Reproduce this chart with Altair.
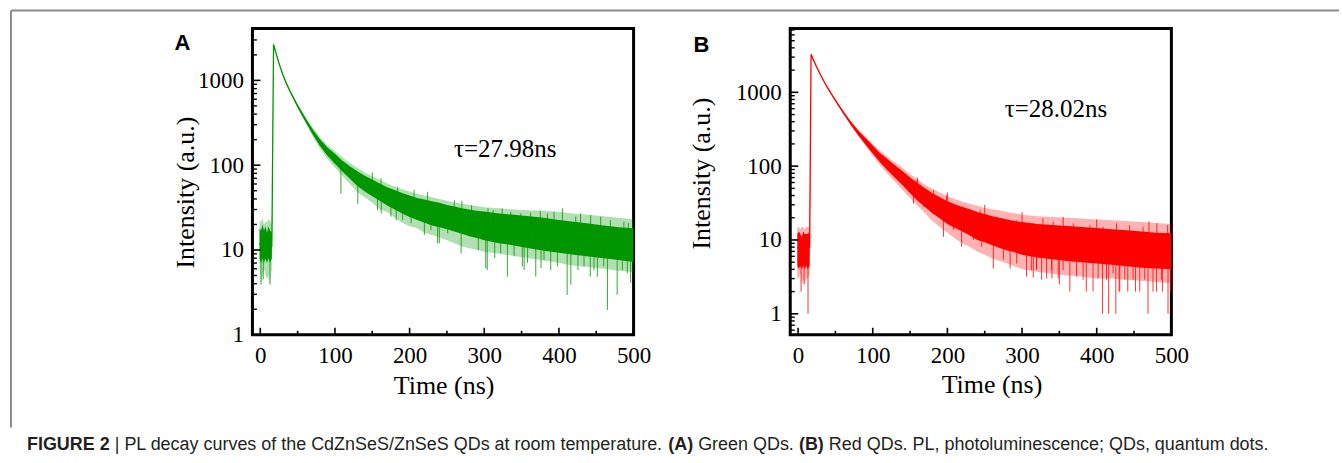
import altair as alt
import pandas as pd

# ---------------- Panel A (green QDs) ----------------
tA = [-1, 1, 3, 5, 7, 9, 11, 13, 15.5, 17.8, 20, 25, 30, 35, 40,
      50, 60, 70, 80, 90, 100, 110, 120, 130, 140, 150, 160, 170, 180, 190,
      200, 210, 220, 230, 240, 250, 260, 270, 280, 290, 300,
      320, 340, 360, 380, 400, 420, 440, 460, 480, 500]
cenA = [12, 11, 13, 11, 12, 11, 12, 11, 11, 2650, 2260, 1600, 1185, 920, 740,
        500, 350, 250, 185, 145, 120, 98, 82, 70, 61, 54, 48, 43, 39, 35,
        32.5, 30.5, 29, 27.5, 26, 24.5, 23, 22, 21, 20, 19.3,
        18, 17, 16, 15, 14.4, 13.6, 13, 12.3, 11.8, 11.3]
hiA = [18, 17, 20, 17, 19, 16, 19, 17, 16, 2700, 2300, 1630, 1210, 945, 762,
       520, 368, 268, 202, 162, 136, 113, 97, 85, 75, 68, 61, 55, 51, 47,
       44, 41, 39.5, 37.5, 36, 34, 32.5, 31, 30, 29, 28.5,
       27, 26, 25, 24, 22.5, 21.5, 20.5, 19.5, 18.5, 18]
loA = [8, 7, 8, 7, 8, 7, 8, 7, 8, 2600, 2220, 1570, 1160, 895, 718,
       480, 332, 232, 168, 129, 104, 84, 69, 57, 49, 43, 38, 33.5, 30, 27,
       24.5, 22.5, 21, 19.5, 18.5, 17.5, 16.5, 15.5, 14.5, 13.8, 13,
       12, 11.3, 10.5, 9.8, 9.3, 8.8, 8.4, 8, 7.6, 7.2]
hi2A = [23, 21, 24, 20, 22, 21, 23, 22, 20, 2700, 2300, 1630, 1210, 945, 762,
        525, 378, 278, 214, 172, 146, 124, 106, 93, 82, 74, 68, 61, 56, 52,
        49, 46, 44, 42, 40, 38, 36.5, 35, 34, 33, 32,
        31, 30, 29.5, 29, 28, 27, 26, 25, 24, 23]
lo2A = [6, 4, 5, 6, 5, 4.5, 5, 4, 6, 2600, 2220, 1570, 1160, 895, 718,
        472, 322, 220, 156, 118, 94, 75, 60, 48, 42, 36, 30, 28, 24, 21,
        19, 18, 16, 15, 14, 13, 12, 11, 10.5, 10, 9.5,
        9, 8.5, 8, 7.5, 7, 6.5, 6.3, 6, 5.7, 5.5]
# noise spikes: time, tip value, value at the band centre
spkA_t = [1, 4, 13, 108, 130.6, 162, 182, 190.7, 219.8, 237.5, 239.8, 269, 292, 302, 304,
          331, 351, 369, 376, 411, 416, 442, 465, 478, 496,
          150, 206, 270, 324, 375, 404.7, 442.5, 493,
          157, 175, 202, 228.6, 251, 264, 282, 313, 314, 322, 340, 353.4, 358, 380, 389,
          398, 425.5, 433.6, 447, 451.5, 460, 485, 491.6,
          161.8, 184, 224, 260, 283, 305, 312, 335.6, 349, 362, 384.6, 393.5, 422.5,
          429, 456, 469, 487]
spkA_v = [3.9, 4.5, 3.9, 46, 35, 27, 22.5, 22.5, 15, 12, 12, 9.1, 10, 6.1, 5.8,
          4.85, 6.4, 4.85, 6.1, 2.95, 3.9, 4.85, 1.97, 2.96, 4.1,
          82, 51, 38, 31, 29, 31, 25.8, 20.8,
          29.6, 24.7, 20.6, 17.2, 15.7, 17.2, 14.4, 13.1, 8.0, 9.1, 8.4, 5.8, 7.0, 7.6, 5.8,
          6.4, 5.8, 6.4, 5.8, 4.85, 6.4, 5.8, 5.3,
          70, 55.6, 48.5, 38.7, 33.8, 31, 29.6, 28.2, 27, 27.5, 27, 28.2, 24.7,
          27, 24.7, 22.5, 21.5]
spkA_b = [11, 11, 11, 96, 70, 47, 38, 35, 29, 26, 26, 22, 20, 19.3, 19.3,
          17.8, 16.9, 16, 15.3, 14, 13.9, 13, 12.2, 11.8, 11.3,
          54, 31.5, 22, 18.2, 15.2, 14.3, 13, 11.4,
          49.8, 41, 32, 27.7, 24.3, 22.6, 20.8, 18.5, 18.4, 17.9, 17, 16.3, 16.1, 15, 14.7,
          14.5, 13.4, 13.2, 12.8, 12.6, 12.3, 11.7, 11.5,
          47.5, 37.5, 28.4, 23, 20.8, 19.1, 18.5, 17.2, 16.5, 15.9, 14.9, 14.6, 13.5,
          13.3, 12.5, 12.1, 11.6]

# ---------------- Panel B (red QDs) ----------------
tB = [-1, 1, 3, 5, 7, 9, 11, 13, 15.5, 17.4, 20, 25, 30, 35, 40,
      50, 60, 70, 80, 90, 100, 110, 120, 130, 140, 150, 160, 170, 180, 190,
      200, 210, 220, 230, 240, 250, 260, 270, 280, 290, 300,
      320, 340, 360, 380, 400, 420, 440, 460, 480, 500]
cenB = [8, 7.5, 8, 7, 8, 7.5, 8, 7.5, 8, 3270, 2820, 2190, 1730, 1390, 1130,
        780, 545, 390, 287, 220, 168, 130, 104, 84, 68, 55, 45, 37, 31, 27,
        23.5, 21, 19, 17, 15.5, 14.3, 13.3, 12.4, 11.7, 11, 10.5,
        9.9, 9.4, 9.0, 8.7, 8.4, 8.1, 7.8, 7.5, 7.3, 7.1]
hiB = [12, 13, 12, 11, 13, 12, 12, 12, 13, 3320, 2865, 2225, 1760, 1415, 1155,
       800, 565, 410, 308, 243, 190, 150, 124, 102, 85, 70, 59, 50, 43, 38,
       33.5, 30.5, 28, 26, 24, 22.5, 21, 20, 19, 18, 17.5,
       16.5, 16, 15.5, 15, 14.5, 14, 13.5, 13, 12.5, 12.3]
loB = [4.5, 4, 4.5, 4, 4.5, 4, 4.5, 4, 4.5, 3220, 2775, 2155, 1700, 1365, 1105,
       760, 525, 370, 266, 198, 148, 112, 87, 69, 55, 43, 34, 28, 23, 19.5,
       16.5, 14.5, 13, 11.5, 10, 9.3, 8.5, 7.8, 7.2, 6.8, 6.3,
       5.8, 5.5, 5.2, 5.0, 4.8, 4.6, 4.4, 4.2, 4.1, 4.0]
hi2B = [15, 15, 14, 15, 15, 14, 15, 15, 15, 3320, 2865, 2225, 1760, 1415, 1155,
        800, 565, 415, 315, 252, 200, 160, 133, 112, 94, 78, 66, 56, 49, 44,
        39, 36, 33, 31, 29, 27, 26, 25, 24, 23, 22,
        21, 20.5, 20, 19.5, 19, 18.5, 18, 17.5, 17, 16.5]
lo2B = [3, 3, 3.5, 2.5, 3, 2.5, 3, 3, 3.5, 3220, 2775, 2155, 1700, 1365, 1105,
        760, 525, 364, 258, 190, 138, 102, 78, 61, 47, 37, 29, 23, 18, 15,
        12.5, 10.5, 9, 8, 7, 6.3, 5.6, 5.2, 4.8, 4.4, 4,
        3.7, 3.5, 3.3, 3.2, 3, 3, 2.9, 2.8, 2.7, 2.6]
spkB_t = [4, 8, 13.3, 194.7, 219, 261.5, 284, 306, 315, 340, 350, 364, 386, 395,
          407.7, 416, 425.6, 430, 441.6, 452, 468.7, 480, 488, 495.5,
          160, 200, 250, 300, 355, 400, 470,
          312.4, 319.5, 326.2, 332.9, 339.6, 348.4, 355, 373, 381.8, 401.9, 413.1, 421.9,
          430.9, 437.6, 448.7, 457.6, 464.3, 475.4, 486.6, 499,
          154.6, 168, 181, 208, 234.8, 246, 275, 292.8, 319.5,
          159, 181.5, 199, 221, 243.7, 266, 293, 315.5, 328, 341.7, 368.5, 390.8, 408.6,
          426.5, 444, 462, 480.5, 495]
spkB_v = [2.0, 2.5, 1.0, 11, 8.1, 4.1, 4.1, 3.2, 3.1, 3.0, 2.5, 2.0, 2.0, 2.0,
          1.0, 1.0, 1.0, 2.0, 2.0, 2.0, 1.0, 2.0, 2.0, 1.0,
          70, 44, 30, 24, 20.6, 19, 18,
          3.9, 4.1, 2.9, 3.0, 3.9, 3.0, 3.9, 3.2, 2.9, 3.0, 2.9, 3.5,
          2.0, 2.9, 2.9, 2.0, 2.9, 2.0, 2.9, 2.0,
          31, 28.2, 22.9, 13.6, 10, 8.1, 5.4, 4.8, 3.9,
          65, 47.4, 40.5, 28.2, 25.4, 20.6, 18.6, 17, 19.6, 17.7, 16.8, 15.9, 15.1,
          16.8, 15.9, 15.1, 16.8, 15.9]
spkB_b = [7.5, 7.5, 7.5, 25.5, 19, 13.2, 11.5, 10.4, 10.2, 9.4, 9.2, 9.0, 8.7, 8.6,
          8.3, 8.2, 8.0, 8.0, 7.8, 7.6, 7.5, 7.3, 7.2, 7.1,
          45, 23.5, 14.3, 10.5, 9.1, 8.4, 7.4,
          10.1, 9.9, 9.7, 9.6, 9.4, 9.2, 9.1, 8.8, 8.7, 8.4, 8.2, 8.1,
          7.9, 7.8, 7.7, 7.5, 7.5, 7.3, 7.2, 7.1,
          50, 38.6, 30.6, 21.5, 16.3, 14.8, 12, 10.9, 9.9,
          45.5, 30.6, 23.8, 18.8, 15.1, 12.8, 10.9, 10.1, 9.7, 9.4, 8.8, 8.6, 8.3,
          8.0, 7.7, 7.5, 7.3, 7.1]

# ---------------- axis ticks ----------------
x_labels = [0, 100, 200, 300, 400, 500]
x_minor = [50, 150, 250, 350, 450]
y_labels = [1, 10, 100, 1000]
y_minorA = [2, 3, 4, 5, 6, 7, 8, 9, 20, 30, 40, 50, 60, 70, 80, 90,
            200, 300, 400, 500, 600, 700, 800, 900, 2000, 3000, 4000]
y_minorB = [0.6, 0.7, 0.8, 0.9, 2, 3, 4, 5, 6, 7, 8, 9, 20, 30, 40, 50, 60, 70, 80, 90,
            200, 300, 400, 500, 600, 700, 800, 900, 2000, 3000, 4000, 5000, 6000, 7000]

W, H = 382, 307
SERIF = "Liberation Serif"
SANS = "Liberation Sans"
one = pd.DataFrame({"k": [0]})


def panel(t, cen, hi, lo, hi2, lo2, st, sv, sb, color, ydom, yminor,
          ytitle_xy, xtitle_xy, tau, tau_xy, letter, letter_xy, extras=None):
    band = pd.DataFrame({"t": t, "c": cen, "hi": hi, "lo": lo, "hi2": hi2, "lo2": lo2})
    spikes = pd.DataFrame({"t": st, "v": sv, "b": sb})
    xscale = alt.Scale(domain=[-10.5, 500], nice=False, zero=False)
    yscale = alt.Scale(type="log", domain=ydom, nice=False)
    xaxis = alt.Axis(values=x_labels, format="d", title="Time (ns)",
                     titleX=xtitle_xy[0], titleY=xtitle_xy[1],
                     titleBaseline="alphabetic", titleAlign="center")
    yaxis = alt.Axis(values=y_labels, format="d", title="Intensity (a.u.)",
                     titleX=ytitle_xy[0], titleY=ytitle_xy[1],
                     titleBaseline="alphabetic", titleAlign="center", titleAngle=270)
    X = alt.X("t:Q", scale=xscale, axis=xaxis)
    base = alt.Chart(band)
    outer = base.mark_area(color=color, opacity=0.3, clip=True).encode(
        x=X, y=alt.Y("lo2:Q", scale=yscale, axis=yaxis), y2="hi2:Q")
    inner = base.mark_area(color=color, opacity=1, clip=True).encode(
        x=X, y=alt.Y("lo:Q", scale=yscale, axis=yaxis), y2="hi:Q")
    line = base.mark_line(color=color, strokeWidth=1.3, clip=True).encode(
        x=X, y=alt.Y("c:Q", scale=yscale, axis=yaxis))
    spk = alt.Chart(spikes).mark_rule(color=color, strokeWidth=1, opacity=0.8, clip=True).encode(
        x=X, y=alt.Y("v:Q", scale=yscale, axis=yaxis), y2="b:Q")
    xt_maj = alt.Chart(pd.DataFrame({"t": x_labels})).mark_rule(color="black", strokeWidth=1.6).encode(
        x=X, y=alt.value(H), y2=alt.value(H - 7))
    xt_min = alt.Chart(pd.DataFrame({"t": x_minor})).mark_rule(color="black", strokeWidth=1.6).encode(
        x=X, y=alt.value(H), y2=alt.value(H - 4))
    yt_maj = alt.Chart(pd.DataFrame({"v": y_labels})).mark_rule(color="black", strokeWidth=1.6).encode(
        y=alt.Y("v:Q", scale=yscale, axis=yaxis), x=alt.value(0), x2=alt.value(8))
    yt_min = alt.Chart(pd.DataFrame({"v": yminor})).mark_rule(color="black", strokeWidth=1.4).encode(
        y=alt.Y("v:Q", scale=yscale, axis=yaxis), x=alt.value(0), x2=alt.value(4.5))
    tau_t = alt.Chart(one).mark_text(text=tau, font=SERIF, fontSize=25, color="black",
                                     align="left", baseline="alphabetic").encode(
        x=alt.value(tau_xy[0]), y=alt.value(tau_xy[1]))
    let = alt.Chart(one).mark_text(text=letter, font=SANS, fontSize=22, fontWeight="bold",
                                   color="black", align="left", baseline="alphabetic").encode(
        x=alt.value(letter_xy[0]), y=alt.value(letter_xy[1]))
    layers = [outer, inner, line, spk, xt_maj, xt_min, yt_maj, yt_min, tau_t, let]
    if extras:
        layers += extras
    return alt.layer(*layers).properties(width=W, height=H)


# caption and outer frame (placed relative to panel A plot origin)
CAP_Y = 422
cap_color = "#231f20"


def cap(txt, x, bold=False):
    return alt.Chart(one).mark_text(text=txt, font=SANS, fontSize=18,
                                    fontWeight="bold" if bold else "normal",
                                    color=cap_color, align="left", baseline="alphabetic").encode(
        x=alt.value(x), y=alt.value(CAP_Y))


extrasA = [
    alt.Chart(one).mark_rule(color="white", strokeWidth=1).encode(
        x=alt.value(-250.5), x2=alt.value(-249.5), y=alt.value(-25.5)),
    alt.Chart(one).mark_rule(color="#8c8c8c", strokeWidth=2).encode(
        x=alt.value(-242), x2=alt.value(1089), y=alt.value(-18)),
    alt.Chart(one).mark_rule(color="#8c8c8c", strokeWidth=2).encode(
        x=alt.value(-242), y=alt.value(-18), y2=alt.value(400)),
    cap("FIGURE 2", -226, True),
    cap("| PL decay curves of the CdZnSeS/ZnSeS QDs at room temperature.", -138),
    cap("(A)", 416.7, True),
    cap("Green QDs.", 446.7),
    cap("(B)", 547.7, True),
    cap("Red QDs. PL, photoluminescence; QDs, quantum dots.", 577.7),
]

A = panel(tA, cenA, hiA, loA, hi2A, lo2A, spkA_t, spkA_v, spkA_b, "#009600",
          [1, 4100], y_minorA, (-59, 164), (191.6, 59), "τ=27.98ns", (202, 129),
          "A", (-78, 22), extrasA)
B = panel(tB, cenB, hiB, loB, hi2B, lo2B, spkB_t, spkB_v, spkB_b, "#ff0000",
          [0.52, 7330], y_minorB, (-80.5, 145), (201.7, 58), "τ=28.02ns", (215, 89),
          "B", (-97, 24))

chart = alt.hconcat(A, B, spacing=157, bounds="flush").properties(
    padding=0, background="white"
).configure_view(stroke="black", strokeWidth=3).configure_axis(
    labelFont=SERIF, labelFontSize=23, labelColor="black", labelPadding=9,
    labelFlush=False, labelOverlap=False,
    titleFont=SERIF, titleFontSize=26, titleFontWeight="normal", titleColor="black",
    grid=False, ticks=False, tickSize=0, domain=False
).configure_axisX(labelPadding=10)

chart.save("out.html", embed_options={"renderer": "svg", "actions": False})
